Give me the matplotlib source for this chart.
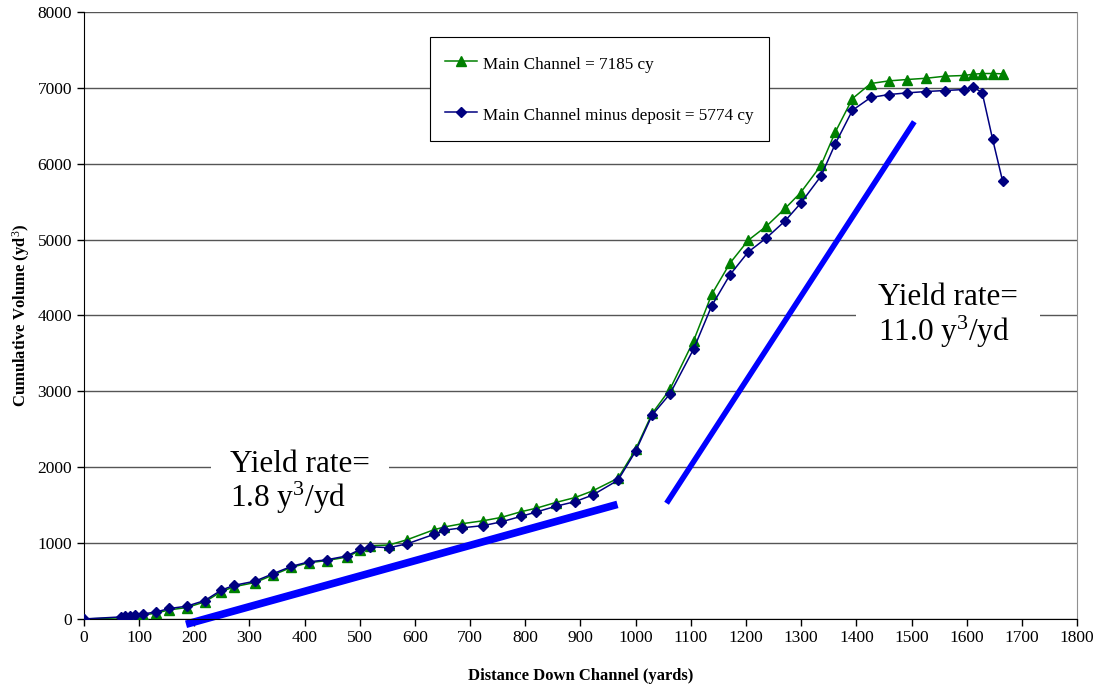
import matplotlib
matplotlib.use('Agg')
import matplotlib.pyplot as plt

# Times-like look, as in the original spreadsheet chart
plt.rcParams.update({'font.family': ['Liberation Serif', 'DejaVu Serif'],
                     'mathtext.fontset': 'custom',
                     'mathtext.rm': 'Liberation Serif',
                     'mathtext.it': 'Liberation Serif:italic',
                     'mathtext.bf': 'Liberation Serif:bold'})

# distance down channel (yards)
distance = [0, 67, 75, 84, 93, 107, 131, 155, 186, 219,
            249, 272, 310, 343, 376, 407, 440, 476, 501, 519,
            553, 586, 634, 653, 685, 724, 756, 793, 820, 855,
            890, 922, 968, 1000, 1030, 1062, 1105, 1138, 1171, 1204,
            1237, 1271, 1299, 1336, 1362, 1393, 1426, 1459, 1492, 1527,
            1561, 1595, 1612, 1628, 1647, 1665]

# cumulative volume, main channel (yd3)
main_channel = [0, 15, 22, 30, 40, 50, 78, 120, 150, 225,
                360, 425, 480, 580, 680, 740, 770, 815, 905, 965,
                975, 1045, 1175, 1212, 1255, 1295, 1338, 1415, 1460, 1535,
                1600, 1688, 1855, 2237, 2710, 3026, 3667, 4280, 4690, 4991,
                5177, 5412, 5619, 5980, 6420, 6859, 7057, 7092, 7110, 7127,
                7154, 7163, 7180, 7189, 7189, 7185]

# cumulative volume, main channel minus deposit (yd3)
minus_deposit = [0, 27, 35, 45, 57, 66, 93, 138, 168, 243,
                 380, 443, 498, 597, 693, 752, 780, 830, 917, 952,
                 939, 991, 1114, 1170, 1201, 1231, 1279, 1354, 1410, 1485,
                 1546, 1633, 1829, 2212, 2689, 2965, 3557, 4130, 4537, 4837,
                 5022, 5248, 5478, 5838, 6266, 6705, 6873, 6912, 6934, 6952,
                 6965, 6978, 7009, 6938, 6323, 5774]

# hand-drawn yield-rate trend lines
low_rate_x = [185, 967]
low_rate_y = [-70, 1510]
high_rate_x = [1056, 1505]
high_rate_y = [1525, 6554]

fig = plt.figure(figsize=(10.96, 6.85), dpi=100)
ax = fig.add_axes([0.0766, 0.0964, 0.9061, 0.8861])

ax.plot(distance, main_channel, color='#008000', lw=1.1, marker='^',
        markersize=7, label='Main Channel = 7185 cy', zorder=3)
ax.plot(distance, minus_deposit, color='#000080', lw=1.1, marker='D',
        markersize=5.5, label='Main Channel minus deposit = 5774 cy', zorder=4)

ax.plot(low_rate_x, low_rate_y, color='#0000FF', lw=5.5,
        solid_capstyle='butt', zorder=2, clip_on=False)
ax.plot(high_rate_x, high_rate_y, color='#0000FF', lw=4,
        solid_capstyle='butt', zorder=2)

ax.text(265, 1790, 'Yield rate=\n1.8 y$^3$/yd', fontsize=22.5, va='center',
        ha='left', linespacing=1.05, zorder=5,
        bbox=dict(facecolor='white', edgecolor='none', pad=14))
ax.text(1439, 3990, 'Yield rate=\n11.0 y$^3$/yd', fontsize=22.5, va='center',
        ha='left', linespacing=1.05, zorder=5,
        bbox=dict(facecolor='white', edgecolor='none', pad=16))

ax.set_xlim(0, 1800)
ax.set_ylim(0, 8000)
ax.set_xticks(range(0, 1801, 100))
ax.set_yticks(range(0, 8001, 1000))
ax.tick_params(axis='both', direction='out', length=5, width=1,
               labelsize=12.5, color='black')
ax.tick_params(axis='x', pad=3)

ax.yaxis.grid(True, color='#555555', lw=1)
ax.set_axisbelow(True)

ax.spines['top'].set_visible(False)
ax.spines['right'].set_color('#909090')
ax.spines['left'].set_color('black')
ax.spines['bottom'].set_color('black')

ax.set_xlabel('Distance Down Channel (yards)', fontsize=12, fontweight='bold',
              labelpad=16)
ax.set_ylabel('Cumulative Volume (yd$^3$)', fontsize=12, fontweight='bold',
              labelpad=4)

leg = ax.legend(loc='upper left', bbox_to_anchor=(0.348, 0.959),
                borderaxespad=0, fontsize=12.3, frameon=True, fancybox=False,
                edgecolor='black', framealpha=1, handlelength=1.9,
                handleheight=1.6, handletextpad=0.3, labelspacing=1.7,
                borderpad=0.9)
leg.get_frame().set_linewidth(0.8)
leg.set_zorder(6)

fig.savefig('out.png', dpi=100, facecolor='white')
